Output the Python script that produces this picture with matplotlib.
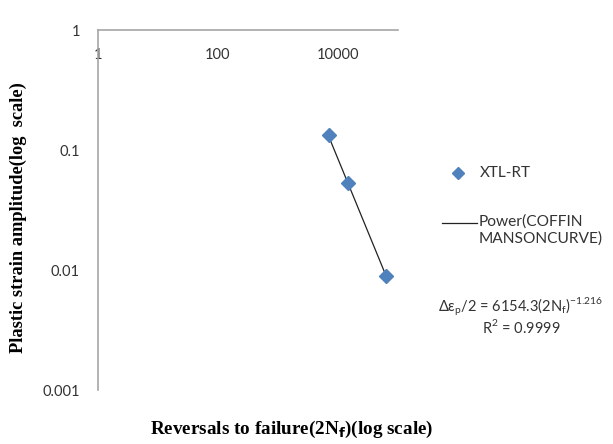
import numpy as np
import matplotlib
matplotlib.use("Agg")
import matplotlib.pyplot as plt
from matplotlib.lines import Line2D

# Data
reversals = [7080, 14800, 63000]
strain_amp = [0.133, 0.0527, 0.0089]
fit_coef = 6154.3
fit_exp = -1.216
r_squared = 0.9999
x_ticks = [1, 100, 10000]
x_tick_labels = ["1", "100", "10000"]
y_ticks = [0.001, 0.01, 0.1, 1]
y_tick_labels = ["0.001", "0.01", "0.1", "1"]
series_name = "XTL-RT"
trend_name = "Power(COFFIN\nMANSONCURVE)"

plt.rcParams['font.family'] = ['Lato', 'DejaVu Sans']
plt.rcParams['axes.unicode_minus'] = False

W, H = 613, 444
fig = plt.figure(figsize=(W/100, H/100), dpi=100)
ax = fig.add_axes([98/W, 1-390/H, 300/W, 360/H])
ax.set_xscale('log')
ax.set_yscale('log')
ax.set_xlim(1, 1e5)
ax.set_ylim(1e-3, 1)

marker_color = '#4F81BD'
line_color = '#222222'
text_color = '#333333'
ax.plot(reversals, strain_amp, linestyle='none', marker='D', markersize=7,
        color=marker_color, zorder=3)
xt = np.array([reversals[0], reversals[-1]], dtype=float)
ax.plot(xt, fit_coef * xt ** fit_exp, color=line_color, linewidth=0.9, zorder=2)

for s in ['right', 'bottom']:
    ax.spines[s].set_visible(False)
for s in ['left', 'top']:
    ax.spines[s].set_color('#A6A6A6')
    ax.spines[s].set_linewidth(1.2)

ax.xaxis.set_ticks_position('top')
ax.set_xticks(x_ticks)
ax.set_xticklabels(x_tick_labels)
ax.xaxis.set_minor_locator(matplotlib.ticker.NullLocator())
ax.tick_params(axis='x', which='major', length=0, labeltop=True, labelbottom=False,
               pad=-23, labelsize=10.5, labelcolor=text_color)
ax.set_yticks(y_ticks)
ax.set_yticklabels(y_tick_labels)
ax.yaxis.set_minor_locator(matplotlib.ticker.NullLocator())
ax.tick_params(axis='y', which='major', length=0, pad=13, labelsize=10.5,
               labelcolor=text_color)

fig.text(18/W, 1-218/H, "Plastic strain amplitude(log  scale)", rotation=90,
         ha='center', va='center', fontsize=13.2, fontweight='bold',
         family=['Liberation Serif'])
fig.text(292/W, 1-429/H, r"Reversals to failure(2N$_\mathbf{f}$)(log scale)",
         ha='center', va='center', fontsize=13.8, fontweight='bold',
         family=['Liberation Serif'])

# legend (drawn in figure coordinates)
fig.add_artist(Line2D([458/W], [1-173/H], linestyle='none', marker='D', markersize=6,
                      color=marker_color, transform=fig.transFigure))
fig.text(480/W, 1-173/H, series_name, ha='left', va='center', fontsize=11,
         color=text_color)
fig.add_artist(Line2D([442/W, 477/W], [1-223/H, 1-223/H], color=line_color,
                      linewidth=0.9, transform=fig.transFigure))
fig.text(479/W, 1-214/H, trend_name, ha='left', va='top', fontsize=11.2,
         color=text_color, linespacing=1.25)

eq = (r"Δε$_\mathregular{p}$/2 = " + f"{fit_coef}" + r"(2N$_\mathregular{f}$)$^\mathregular{"
      + f"{fit_exp}" + r"}$" + "\n" + r"R$^\mathregular{2}$ = " + f"{r_squared}")
fig.text(521/W, 1-316/H, eq, ha='center', va='center', multialignment='center',
         fontsize=10.5, color=text_color, linespacing=1.0)

fig.savefig("out.png", dpi=100)
